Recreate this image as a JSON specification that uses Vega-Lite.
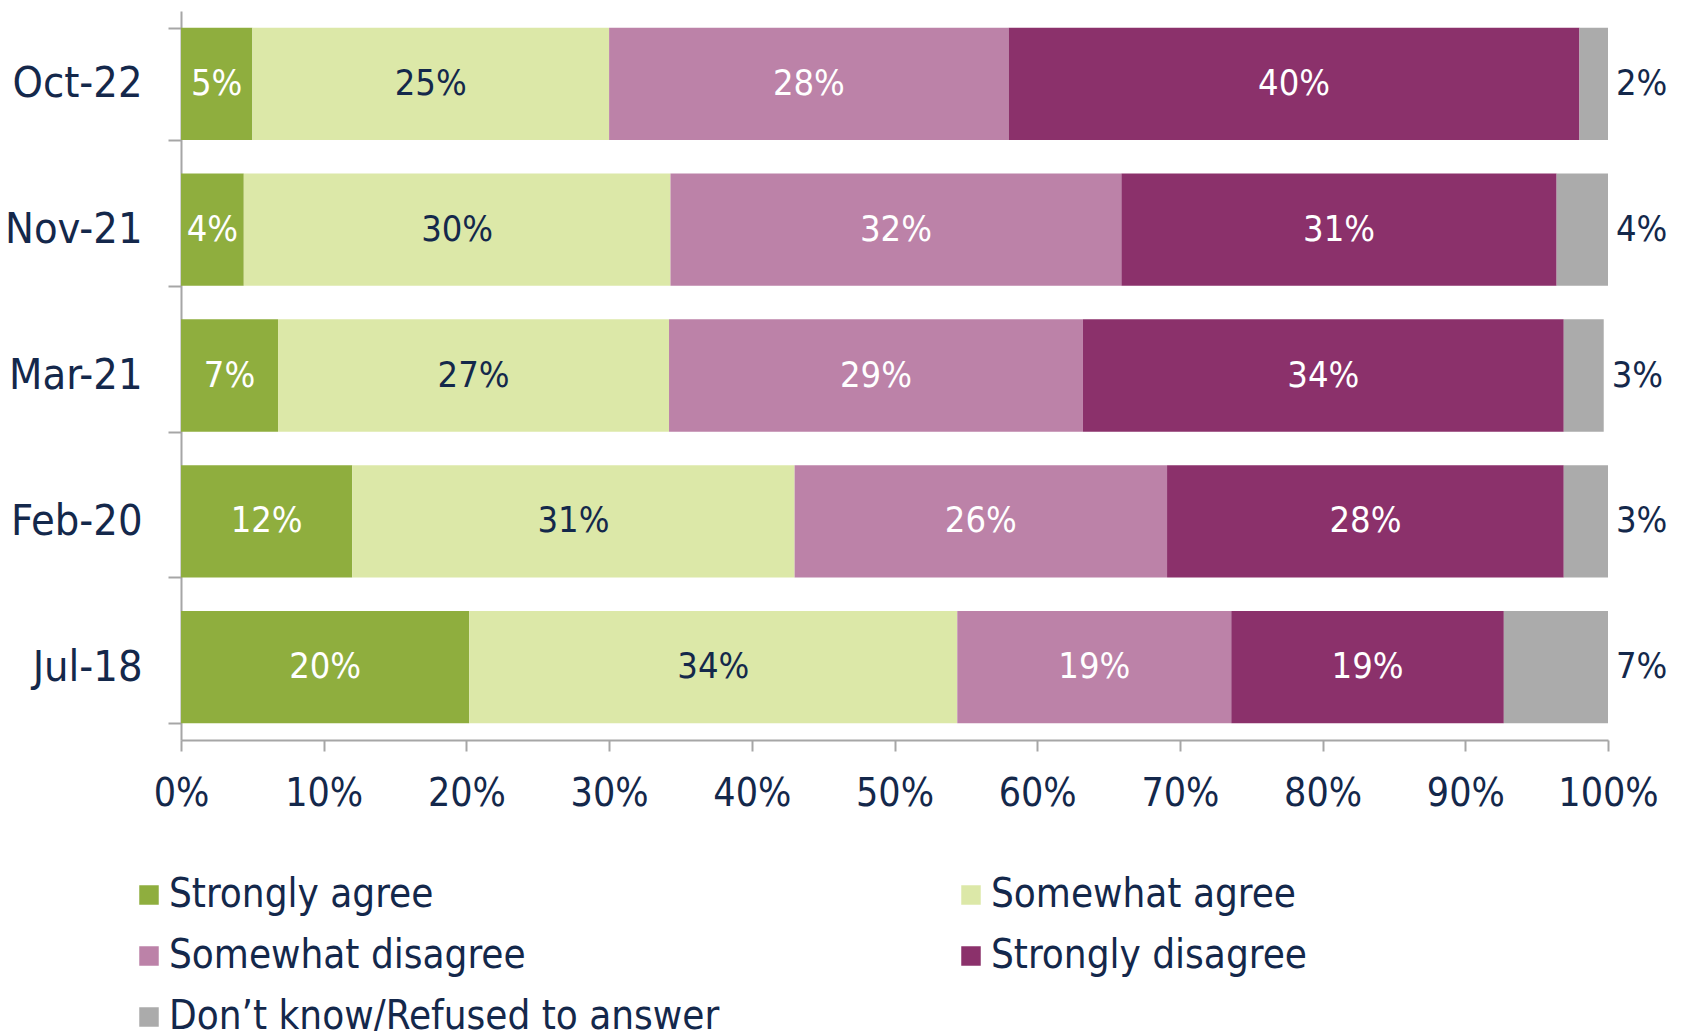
{
  "$schema": "https://vega.github.io/schema/vega-lite/v6.json",
  "width": 1427,
  "height": 729,
  "autosize": {"type": "none"},
  "padding": {"left": 181, "top": 11, "right": 80, "bottom": 291},
  "background": "white",
  "config": {
    "view": {"stroke": null},
    "font": "DejaVu Sans Condensed, sans-serif"
  },
  "data": {
    "values": [
      {"date": "Oct-22", "category": "Strongly agree", "order": 1, "value": 0.05},
      {"date": "Oct-22", "category": "Somewhat agree", "order": 2, "value": 0.25},
      {"date": "Oct-22", "category": "Somewhat disagree", "order": 3, "value": 0.28},
      {"date": "Oct-22", "category": "Strongly disagree", "order": 4, "value": 0.40},
      {"date": "Oct-22", "category": "Don’t know/Refused to answer", "order": 5, "value": 0.02},
      {"date": "Nov-21", "category": "Strongly agree", "order": 1, "value": 0.044},
      {"date": "Nov-21", "category": "Somewhat agree", "order": 2, "value": 0.299},
      {"date": "Nov-21", "category": "Somewhat disagree", "order": 3, "value": 0.316},
      {"date": "Nov-21", "category": "Strongly disagree", "order": 4, "value": 0.305},
      {"date": "Nov-21", "category": "Don’t know/Refused to answer", "order": 5, "value": 0.036},
      {"date": "Mar-21", "category": "Strongly agree", "order": 1, "value": 0.068},
      {"date": "Mar-21", "category": "Somewhat agree", "order": 2, "value": 0.274},
      {"date": "Mar-21", "category": "Somewhat disagree", "order": 3, "value": 0.290},
      {"date": "Mar-21", "category": "Strongly disagree", "order": 4, "value": 0.337},
      {"date": "Mar-21", "category": "Don’t know/Refused to answer", "order": 5, "value": 0.028},
      {"date": "Feb-20", "category": "Strongly agree", "order": 1, "value": 0.120},
      {"date": "Feb-20", "category": "Somewhat agree", "order": 2, "value": 0.310},
      {"date": "Feb-20", "category": "Somewhat disagree", "order": 3, "value": 0.261},
      {"date": "Feb-20", "category": "Strongly disagree", "order": 4, "value": 0.278},
      {"date": "Feb-20", "category": "Don’t know/Refused to answer", "order": 5, "value": 0.031},
      {"date": "Jul-18", "category": "Strongly agree", "order": 1, "value": 0.202},
      {"date": "Jul-18", "category": "Somewhat agree", "order": 2, "value": 0.342},
      {"date": "Jul-18", "category": "Somewhat disagree", "order": 3, "value": 0.192},
      {"date": "Jul-18", "category": "Strongly disagree", "order": 4, "value": 0.191},
      {"date": "Jul-18", "category": "Don’t know/Refused to answer", "order": 5, "value": 0.073}
    ]
  },
  "encoding": {
    "y": {
      "field": "date",
      "type": "nominal",
      "sort": ["Oct-22", "Nov-21", "Mar-21", "Feb-20", "Jul-18"],
      "scale": {"paddingInner": 0.23, "paddingOuter": 0.115},
      "axis": {
        "title": null,
        "domainColor": "#a6a6a6",
        "domainWidth": 2,
        "tickColor": "#a6a6a6",
        "tickWidth": 2,
        "tickSize": 13,
        "tickBand": "extent",
        "labelFontSize": 43,
        "labelColor": "#14284b",
        "labelPadding": 26
      }
    }
  },
  "layer": [
    {
      "mark": {"type": "bar"},
      "encoding": {
        "x": {
          "field": "value",
          "type": "quantitative",
          "stack": "zero",
          "scale": {"domain": [0, 1], "nice": false},
          "axis": {
            "title": null,
            "values": [0, 0.1, 0.2, 0.3, 0.4, 0.5, 0.6, 0.7, 0.8, 0.9, 1],
            "format": ".0%",
            "grid": false,
            "domainColor": "#a6a6a6",
            "domainWidth": 2,
            "tickColor": "#a6a6a6",
            "tickWidth": 2,
            "tickSize": 11,
            "labelFontSize": 39,
            "labelColor": "#14284b",
            "labelPadding": 23,
            "labelFlush": false
          }
        },
        "order": {"field": "order", "type": "quantitative"},
        "color": {
          "field": "category",
          "type": "nominal",
          "scale": {
            "domain": ["Strongly agree", "Somewhat agree", "Somewhat disagree", "Strongly disagree", "Don’t know/Refused to answer"],
            "range": ["#8fae3e", "#dce8a8", "#bc82a8", "#8b316b", "#ababab"]
          },
          "legend": {
            "title": null,
            "orient": "none",
            "legendX": -52,
            "legendY": 864,
            "columns": 2,
            "direction": "horizontal",
            "symbolType": "square",
            "symbolSize": 380,
            "symbolStrokeWidth": 0,
            "labelFontSize": 40,
            "labelColor": "#14284b",
            "labelOffset": 0,
            "labelLimit": 800,
            "rowPadding": 21,
            "columnPadding": 231,
            "padding": 0
          }
        }
      }
    },
    {
      "mark": {"type": "text", "fontSize": 36, "baseline": "middle", "align": "center"},
      "encoding": {
        "x": {"field": "value", "type": "quantitative", "stack": "zero", "bandPosition": 0.5},
        "detail": {"field": "category"},
        "order": {"field": "order", "type": "quantitative"},
        "text": {
          "condition": {"test": "datum.order === 5", "value": ""},
          "field": "value",
          "type": "quantitative",
          "format": ".0%"
        },
        "color": {
          "condition": {"test": "datum.order === 2", "value": "#14284b"},
          "value": "#ffffff"
        }
      }
    },
    {
      "mark": {"type": "text", "fontSize": 36, "baseline": "middle", "align": "left", "dx": 8, "color": "#14284b"},
      "encoding": {
        "x": {"field": "value", "type": "quantitative", "stack": "zero"},
        "detail": {"field": "category"},
        "order": {"field": "order", "type": "quantitative"},
        "text": {
          "condition": {"test": "datum.order !== 5", "value": ""},
          "field": "value",
          "type": "quantitative",
          "format": ".0%"
        }
      }
    }
  ]
}
